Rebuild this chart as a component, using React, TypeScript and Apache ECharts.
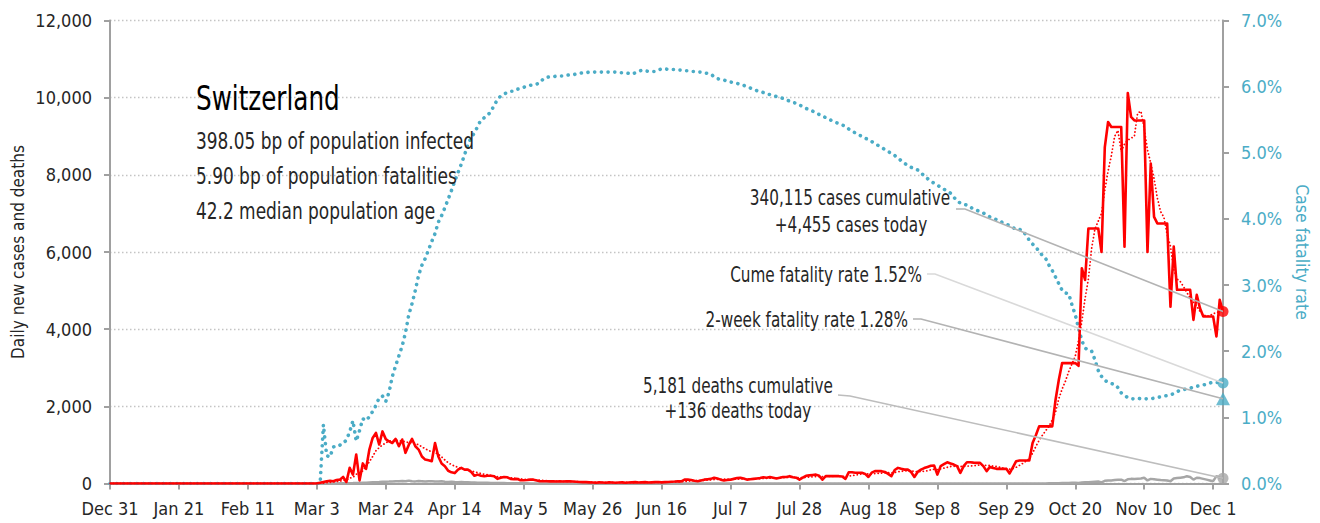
import React, { useEffect, useRef } from "react";
import * as echarts from "echarts";

// ---------- DATA ----------
const START_YEAR = 2019;
const START_MONTH = 11; // December (0-based)
const START_DAY = 31;
const DAY_COUNT = 340; // Dec 31, 2019 .. Dec 4, 2020
const TICK_EVERY_DAYS = 21;

const dailyCases = [
  0, 0, 0, 0, 0, 0, 0, 0, 0, 0,
  0, 0, 0, 0, 0, 0, 0, 0, 0, 0,
  0, 0, 0, 0, 0, 0, 0, 0, 0, 0,
  0, 0, 0, 0, 0, 0, 0, 0, 0, 0,
  0, 0, 0, 0, 0, 0, 0, 0, 0, 0,
  0, 0, 0, 0, 0, 0, 0, 0, 0, 0,
  0, 0, 0, 0, 20, 40, 60, 70, 60, 90,
  100, 170, 40, 405, 230, 750, 80, 520, 380, 880,
  1180, 1310, 1010, 1350, 1150, 1090, 1050, 1155, 965, 1140,
  795, 1000, 1155, 965, 880, 700, 620, 600, 577, 1050,
  700, 520, 450, 330, 290, 270, 360, 405, 360, 360,
  300, 200, 230, 200, 190, 200, 200, 190, 120, 150,
  170, 160, 120, 110, 120, 85, 85, 90, 100, 100,
  80, 60, 60, 60, 55, 60, 50, 55, 50, 60,
  55, 50, 45, 40, 35, 35, 30, 25, 20, 30,
  25, 20, 30, 25, 20, 25, 30, 20, 25, 30,
  35, 25, 30, 35, 25, 30, 35, 40, 30, 35,
  40, 45, 50, 60, 55, 100, 100, 90, 70, 60,
  80, 100, 110, 120, 150, 130, 100, 80, 90, 100,
  120, 140, 150, 130, 100, 110, 120, 130, 140, 160,
  150, 170, 150, 130, 150, 170, 170, 190, 160, 150,
  100, 150, 200, 210, 220, 230, 200, 100, 190, 190,
  190, 190, 190, 180, 120, 290, 290, 280, 280, 280,
  250, 170, 280, 320, 320, 320, 300, 250, 190, 350,
  405, 380, 360, 360, 300, 170, 300, 360, 400, 430,
  460, 465, 230, 450, 500, 550, 520, 490, 450, 275,
  450, 550, 550, 540, 535, 535, 450, 320, 430, 400,
  380, 380, 380, 380, 260, 420, 577, 595, 595, 595,
  595, 1050, 1250, 1480, 1480, 1480, 1480, 1480, 2170, 2690,
  3120, 3120, 3120, 3120, 3120, 3050, 5580, 5275, 6610, 6610,
  6610, 6610, 6000, 8720, 9370, 9240, 9240, 9240, 9240, 6140,
  10120, 9500, 9410, 9410, 9410, 9410, 6000, 8290, 6910, 6740,
  6740, 6740, 6740, 4585, 6140, 5020, 5020, 5020, 5020, 5020,
  4240, 4890, 4540, 4330, 4330, 4330, 4330, 3810, 4760, 4455,
];

const casesAvg7 = [
  0, 0, 0, 0, 0, 0, 0, 0, 0, 0,
  0, 0, 0, 0, 0, 0, 0, 0, 0, 0,
  0, 0, 0, 0, 0, 0, 0, 0, 0, 0,
  0, 0, 0, 0, 0, 0, 0, 0, 0, 0,
  0, 0, 0, 0, 0, 0, 0, 0, 0, 0,
  0, 0, 0, 0, 0, 0, 0, 0, 0, 0,
  0, 0, 0, 0, 5, 10, 20, 30, 40, 50,
  60, 80, 90, 140, 160, 240, 250, 330, 450, 560,
  700, 850, 930, 1000, 1050, 1100, 1110, 1120, 1110, 1100,
  1080, 1060, 1060, 1040, 1000, 950, 900, 860, 820, 800,
  760, 690, 610, 540, 490, 450, 420, 390, 370, 350,
  330, 300, 280, 260, 240, 225, 210, 195, 180, 170,
  165, 160, 150, 140, 130, 120, 110, 105, 100, 95,
  90, 85, 78, 72, 66, 62, 58, 57, 56, 55,
  54, 52, 49, 46, 43, 40, 37, 34, 32, 30,
  28, 27, 26, 26, 25, 25, 25, 25, 26, 26,
  27, 27, 28, 29, 30, 31, 31, 32, 33, 34,
  35, 37, 39, 42, 45, 52, 60, 67, 72, 76,
  81, 85, 89, 95, 102, 109, 113, 114, 112, 110,
  111, 113, 116, 119, 120, 121, 123, 126, 128, 131,
  134, 139, 142, 145, 148, 152, 156, 160, 160, 158,
  152, 152, 158, 165, 172, 180, 182, 176, 182, 185,
  188, 190, 188, 184, 178, 190, 205, 218, 232, 245,
  250, 246, 248, 255, 262, 270, 275, 280, 270, 288,
  302, 316, 322, 330, 330, 310, 310, 310, 318, 330,
  355, 370, 360, 380, 400, 420, 440, 445, 450, 440,
  445, 450, 455, 460, 470, 480, 470, 470, 465, 450,
  440, 420, 400, 385, 370, 385, 420, 470, 520, 580,
  640, 790, 960, 1120, 1250, 1370, 1480, 1650, 1850, 2200,
  2450, 2650, 2900, 3100, 3300, 3700, 4200, 4800, 5300, 6100,
  6600, 6800, 7000, 7600, 8100, 8500, 9000, 9150, 8600, 8800,
  8900, 8950, 9000, 9600, 9650, 9200, 8650, 8300, 7900, 7400,
  7050, 6900, 6450, 6150, 5550, 5300, 5230, 5100, 4950, 4800,
  4700, 4600, 4460, 4380, 4330, 4350, 4400, 4430, 4450, 4460,
];

const dailyDeaths = [
  0, 0, 0, 0, 0, 0, 0, 0, 0, 0,
  0, 0, 0, 0, 0, 0, 0, 0, 0, 0,
  0, 0, 0, 0, 0, 0, 0, 0, 0, 0,
  0, 0, 0, 0, 0, 0, 0, 0, 0, 0,
  0, 0, 0, 0, 0, 0, 0, 0, 0, 0,
  0, 0, 0, 0, 0, 0, 0, 0, 0, 0,
  0, 0, 0, 0, 0, 1, 1, 1, 2, 3,
  5, 6, 5, 8, 10, 14, 12, 18, 20, 25,
  30, 35, 38, 45, 48, 50, 55, 60, 58, 62,
  60, 75, 58, 55, 65, 60, 50, 58, 60, 55,
  50, 58, 45, 40, 45, 38, 35, 40, 30, 35,
  28, 25, 22, 20, 18, 20, 15, 12, 14, 10,
  10, 8, 7, 6, 5, 5, 4, 4, 3, 3,
  2, 3, 2, 2, 1, 1, 1, 2, 1, 0,
  1, 1, 0, 1, 2, 0, 1, 0, 1, 0,
  0, 1, 0, 0, 1, 0, 0, 1, 0, 0,
  1, 0, 0, 1, 0, 0, 0, 1, 0, 0,
  0, 1, 0, 0, 1, 0, 0, 0, 1, 0,
  1, 0, 0, 1, 0, 0, 1, 0, 0, 0,
  1, 0, 1, 0, 0, 1, 0, 0, 1, 0,
  0, 1, 0, 1, 0, 0, 1, 0, 0, 1,
  0, 1, 0, 0, 1, 0, 1, 0, 0, 1,
  1, 0, 1, 0, 0, 1, 1, 0, 1, 0,
  1, 0, 1, 1, 0, 1, 0, 1, 1, 0,
  1, 1, 0, 2, 1, 0, 1, 1, 2, 1,
  1, 2, 0, 1, 2, 1, 1, 2, 0, 1,
  2, 1, 2, 1, 1, 2, 1, 0, 2, 2,
  1, 2, 2, 1, 0, 2, 3, 2, 2, 3,
  2, 3, 3, 2, 3, 3, 4, 5, 6, 8,
  10, 12, 15, 18, 20, 15, 25, 30, 35, 40,
  45, 50, 30, 70, 75, 80, 90, 95, 100, 60,
  110, 120, 115, 125, 130, 150, 80, 120, 110, 100,
  90, 85, 80, 60, 130, 140, 150, 160, 190, 170,
  100, 150, 140, 120, 100, 80, 60, 190, 150, 136,
];

const cumeCfrPct = [
  0, 0, 0, 0, 0, 0, 0, 0, 0, 0,
  0, 0, 0, 0, 0, 0, 0, 0, 0, 0,
  0, 0, 0, 0, 0, 0, 0, 0, 0, 0,
  0, 0, 0, 0, 0, 0, 0, 0, 0, 0,
  0, 0, 0, 0, 0, 0, 0, 0, 0, 0,
  0, 0, 0, 0, 0, 0, 0, 0, 0, 0,
  0, 0, 0, 0, 0, 0.89, 0.42, 0.40, 0.55, 0.58,
  0.58, 0.60, 0.66, 0.78, 0.95, 0.64, 0.80, 0.98, 0.95, 1.01,
  1.09, 1.18, 1.30, 1.32, 1.24, 1.38, 1.62, 1.78, 1.93, 2.08,
  2.28, 2.55, 2.72, 2.92, 3.15, 3.30, 3.40, 3.53, 3.66, 3.78,
  3.95, 4.05, 4.17, 4.30, 4.43, 4.57, 4.70, 4.83, 4.97, 5.12,
  5.23, 5.30, 5.40, 5.50, 5.53, 5.57, 5.62, 5.72, 5.80, 5.86,
  5.89, 5.91, 5.93, 5.93, 5.96, 5.97, 5.99, 6.01, 6.02, 6.03,
  6.04, 6.06, 6.12, 6.14, 6.15, 6.15, 6.16, 6.16, 6.16, 6.17,
  6.18, 6.18, 6.19, 6.20, 6.21, 6.21, 6.22, 6.22, 6.22, 6.22,
  6.22, 6.22, 6.22, 6.22, 6.22, 6.21, 6.21, 6.21, 6.20, 6.19,
  6.21, 6.23, 6.25, 6.24, 6.23, 6.23, 6.23, 6.25, 6.27, 6.27,
  6.26, 6.26, 6.26, 6.25, 6.25, 6.24, 6.24, 6.23, 6.23, 6.22,
  6.22, 6.21, 6.20, 6.19, 6.15, 6.12, 6.11, 6.10, 6.08, 6.07,
  6.06, 6.05, 6.03, 6.02, 6.00, 5.98, 5.96, 5.94, 5.93, 5.91,
  5.89, 5.88, 5.87, 5.85, 5.84, 5.82, 5.80, 5.78, 5.76, 5.75,
  5.72, 5.70, 5.67, 5.65, 5.63, 5.60, 5.58, 5.56, 5.53, 5.51,
  5.48, 5.46, 5.44, 5.42, 5.40, 5.36, 5.33, 5.30, 5.27, 5.25,
  5.22, 5.20, 5.17, 5.14, 5.11, 5.08, 5.05, 5.02, 4.99, 4.96,
  4.92, 4.88, 4.84, 4.81, 4.78, 4.76, 4.74, 4.70, 4.65, 4.61,
  4.57, 4.54, 4.51, 4.48, 4.45, 4.42, 4.39, 4.33, 4.27, 4.24,
  4.22, 4.21, 4.18, 4.15, 4.13, 4.11, 4.09, 4.06, 4.03, 4.01,
  3.99, 3.97, 3.94, 3.92, 3.90, 3.87, 3.84, 3.84, 3.83, 3.75,
  3.68, 3.62, 3.58, 3.50, 3.45, 3.40, 3.30, 3.22, 3.12, 3.02,
  2.92, 2.88, 2.87, 2.70, 2.55, 2.35, 2.16, 2.05, 2.01, 2.00,
  1.87, 1.71, 1.62, 1.56, 1.53, 1.51, 1.50, 1.45, 1.37, 1.33,
  1.30, 1.28, 1.28, 1.29, 1.28, 1.28, 1.28, 1.28, 1.29, 1.30,
  1.31, 1.32, 1.33, 1.34, 1.36, 1.39, 1.41, 1.42, 1.43, 1.44,
  1.46, 1.47, 1.48, 1.49, 1.50, 1.52, 1.53, 1.53, 1.52, 1.52,
];

const latestCases = 4455;
const latestDeaths = 136;
const latestCumeCfr = 1.52;
const latestTwoWeekCfr = 1.28;

const leftAxisMax = 12000;
const leftAxisStep = 2000;
const rightAxisMax = 7;
const rightAxisStep = 1;

const titleText = "Switzerland";
const subtitleLines = [
  "398.05 bp of population infected",
  "5.90 bp of population fatalities",
  "42.2 median population age",
];
const casesNote = ["340,115 cases cumulative", "+4,455 cases today"];
const cumeCfrNote = "Cume fatality rate 1.52%";
const twoWeekCfrNote = "2-week fatality rate 1.28%";
const deathsNote = ["5,181 deaths cumulative", "+136 deaths today"];
const leftAxisName = "Daily new cases and deaths";
const rightAxisName = "Case fatality rate";

const MONTHS = ["Jan", "Feb", "Mar", "Apr", "May", "Jun", "Jul", "Aug", "Sep", "Oct", "Nov", "Dec"];
const categories: string[] = Array.from({ length: DAY_COUNT }, (_, i) => {
  const d = new Date(Date.UTC(START_YEAR, START_MONTH, START_DAY + i));
  return `${MONTHS[d.getUTCMonth()]} ${d.getUTCDate()}`;
});
const lastCat = categories[categories.length - 1];

// ---------- STYLE ----------
const FONT = "'DejaVu Sans Condensed', 'DejaVu Sans', sans-serif";
const AXIS_GRAY = "#a0a0a0";
const BLUE = "#4bacc6";
const RED = "#ff0000";
const DEATH_GRAY = "#a6a6a6";
const TEXT_DARK = "#262626";

export default function App() {
  const ref = useRef<HTMLDivElement>(null);

  useEffect(() => {
    if (!ref.current) return;
    const chart = echarts.init(ref.current, undefined, { renderer: "svg" });
    const showTick = (i: number) => i % TICK_EVERY_DAYS === 0;

    const option: any = {
      animation: false,
      backgroundColor: "#ffffff",
      textStyle: { fontFamily: FONT },
      grid: {
        left: 110,
        right: 97,
        top: 20.5,
        bottom: 39.5,
        containLabel: false,
        outerBoundsMode: "none",
      },
      xAxis: {
        type: "category",
        data: categories,
        boundaryGap: false,
        axisLine: { lineStyle: { color: AXIS_GRAY, width: 2 } },
        axisTick: { interval: showTick, length: 6, lineStyle: { color: AXIS_GRAY, width: 2 } },
        axisLabel: {
          interval: showTick,
          color: TEXT_DARK,
          fontSize: 18,
          fontFamily: FONT,
          margin: 16,
          hideOverlap: false,
        },
        splitLine: { show: false },
      },
      yAxis: [
        {
          type: "value",
          position: "left",
          min: 0,
          max: leftAxisMax,
          interval: leftAxisStep,
          name: leftAxisName,
          nameLocation: "middle",
          nameRotate: 90,
          nameGap: 84,
          nameMoveOverlap: false,
          nameTextStyle: { color: TEXT_DARK, fontSize: 17, fontFamily: FONT },
          axisLine: { show: true, lineStyle: { color: AXIS_GRAY, width: 2 } },
          axisTick: { show: true, length: 6, lineStyle: { color: AXIS_GRAY, width: 2 } },
          axisLabel: {
            color: TEXT_DARK,
            fontSize: 18,
            fontFamily: FONT,
            margin: 18,
            formatter: (v: number) => v.toLocaleString("en-US"),
          },
          splitLine: { show: true, lineStyle: { color: "#c4c4c4", width: 1.3, type: [1.5, 2.5] } },
        },
        {
          type: "value",
          position: "right",
          min: 0,
          max: rightAxisMax,
          interval: rightAxisStep,
          name: rightAxisName,
          nameLocation: "middle",
          nameRotate: -90,
          nameGap: 70,
          nameMoveOverlap: false,
          nameTextStyle: { color: BLUE, fontSize: 17.5, fontFamily: FONT },
          axisLine: { show: true, lineStyle: { color: AXIS_GRAY, width: 2 } },
          axisTick: { show: true, length: 6, lineStyle: { color: AXIS_GRAY, width: 2 } },
          axisLabel: {
            color: BLUE,
            fontSize: 18,
            fontFamily: FONT,
            margin: 18,
            formatter: (v: number) => `${v.toFixed(1)}%`,
          },
          splitLine: { show: false },
        },
      ],
      series: [
        {
          name: "Daily deaths",
          type: "line",
          yAxisIndex: 0,
          data: dailyDeaths,
          symbol: "none",
          lineStyle: { color: DEATH_GRAY, width: 2.5 },
          z: 2,
        },
        {
          name: "Cume fatality rate",
          type: "line",
          yAxisIndex: 1,
          data: cumeCfrPct,
          symbol: "none",
          lineStyle: { color: BLUE, width: 3.6, type: [0.1, 6.6], cap: "round" },
          z: 3,
        },
        {
          name: "Cases 7-day average",
          type: "line",
          yAxisIndex: 0,
          data: casesAvg7,
          symbol: "none",
          lineStyle: { color: RED, width: 1.8, type: [0.1, 3.4], cap: "round" },
          z: 4,
        },
        {
          name: "Daily cases",
          type: "line",
          yAxisIndex: 0,
          data: dailyCases,
          symbol: "none",
          lineStyle: { color: RED, width: 2.6, join: "round" },
          z: 5,
        },
        {
          type: "scatter",
          yAxisIndex: 0,
          data: [[lastCat, latestCases]],
          symbol: "circle",
          symbolSize: 11,
          itemStyle: { color: RED },
          z: 6,
        },
        {
          type: "scatter",
          yAxisIndex: 0,
          data: [[lastCat, latestDeaths]],
          symbol: "circle",
          symbolSize: 11,
          itemStyle: { color: DEATH_GRAY },
          z: 6,
        },
        {
          type: "scatter",
          yAxisIndex: 1,
          data: [[lastCat, latestCumeCfr]],
          symbol: "circle",
          symbolSize: 11,
          itemStyle: { color: BLUE },
          z: 6,
        },
        {
          type: "scatter",
          yAxisIndex: 1,
          data: [[lastCat, latestTwoWeekCfr]],
          symbol: "triangle",
          symbolSize: [14, 13],
          itemStyle: { color: BLUE },
          z: 6,
        },
      ],
    };

    chart.setOption(option);

    const px = (seriesIndex: number, value: number) =>
      chart.convertToPixel({ seriesIndex }, [lastCat, value]) as number[];
    const pCases = px(4, latestCases);
    const pDeaths = px(5, latestDeaths);
    const pCume = px(6, latestCumeCfr);
    const pTwo = px(7, latestTwoWeekCfr);

    const txt = (
      id: string,
      text: string,
      x: number,
      y: number,
      size: number,
      sx: number,
      align: string,
      fill: string
    ) => ({
      type: "text",
      id,
      x,
      y,
      scaleX: sx,
      z: 20,
      style: {
        text,
        fill,
        fontSize: size,
        fontFamily: FONT,
        align,
        verticalAlign: "middle",
        textAlign: align,
        textVerticalAlign: "middle",
      },
    });
    const leader = (id: string, pts: number[][], color: string) => ({
      type: "polyline",
      id,
      z: 15,
      shape: { points: pts },
      style: { stroke: color, lineWidth: 1.6, fill: null },
    });

    const SUB_SX = 0.82;
    const NOTE_SX = 0.77;
    chart.setOption({
      graphic: [
        txt("title", titleText, 196, 99, 33, 0.83, "left", "#000000"),
        txt("sub0", subtitleLines[0], 196, 140.5, 23, SUB_SX, "left", TEXT_DARK),
        txt("sub1", subtitleLines[1], 196, 175.5, 23, SUB_SX, "left", TEXT_DARK),
        txt("sub2", subtitleLines[2], 196, 210.5, 23, SUB_SX, "left", TEXT_DARK),
        txt("cn0", casesNote[0], 850, 198, 22, NOTE_SX, "center", TEXT_DARK),
        txt("cn1", casesNote[1], 851, 225, 22, NOTE_SX, "center", TEXT_DARK),
        txt("cume", cumeCfrNote, 922, 275, 22, NOTE_SX, "right", TEXT_DARK),
        txt("two", twoWeekCfrNote, 908, 320, 22, NOTE_SX, "right", TEXT_DARK),
        txt("dn0", deathsNote[0], 738, 386, 22, NOTE_SX, "center", TEXT_DARK),
        txt("dn1", deathsNote[1], 738, 411, 22, NOTE_SX, "center", TEXT_DARK),
        leader("lc", [[956, 209], [965, 209], pCases], "#b3b3b3"),
        leader("lcu", [[927, 274], [935, 274], pCume], "#d9d9d9"),
        leader("ltw", [[913, 319], [921, 319], pTwo], "#b3b3b3"),
        leader("ld", [[838, 395], [850, 396], pDeaths], "#bdbdbd"),
      ],
    });

    return () => chart.dispose();
  }, []);

  return (
    <div
      ref={ref}
      style={{ position: "absolute", left: 0, top: 0, width: 1320, height: 523 }}
    />
  );
}
